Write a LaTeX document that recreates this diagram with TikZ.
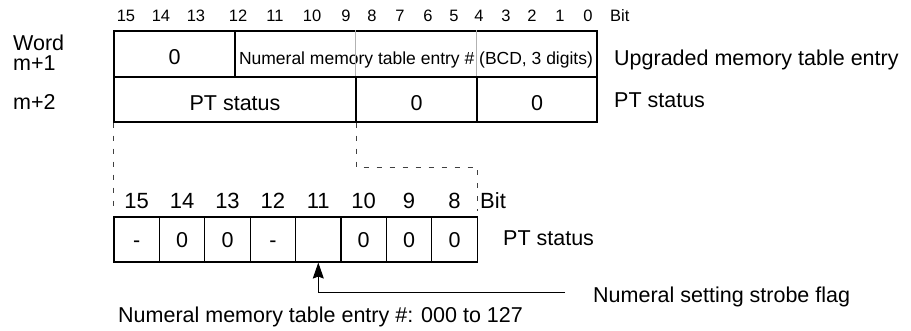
\documentclass[tikz,border=0pt]{standalone}
\usepackage{fontspec}
\setmainfont{Liberation Sans}
\usetikzlibrary{arrows.meta}

\tikzstyle{every node}=[font=\fontsize{21.5}{24}\selectfont, inner sep=0pt]
\tikzstyle{cell} = [rectangle, draw, line width=1.1pt, minimum height=46pt, text height=22pt, text depth=0pt]
\tikzstyle{bitcell} = [rectangle, draw, line width=1.1pt, minimum height=45pt, minimum width=45.4pt, text height=16pt, text depth=0pt]
\tikzstyle{bitno} = [anchor=base, font=\fontsize{16.5}{18}\selectfont]
\tikzstyle{bigbitno} = [anchor=base, font=\fontsize{22}{24}\selectfont]
\tikzstyle{bitline} = [draw=gray!60, line width=0.8pt]
\tikzstyle{guide} = [draw=black!75, line width=0.9pt, dash pattern=on 5pt off 8pt]
\tikzstyle{flagarrow} = [line width=0.9pt, -{Stealth[length=16pt, width=11pt, inset=2pt]}]

\begin{document}
\begin{tikzpicture}[x=1pt, y=-1pt]
	\useasboundingbox (0,0) rectangle (911,331);
	\node[bitno] at (126,22) {15};
	\node[bitno] at (161,22) {14};
	\node[bitno] at (196,22) {13};
	\node[bitno] at (238,22) {12};
	\node[bitno] at (275,22) {11};
	\node[bitno] at (312,22) {10};
	\node[bitno] at (346,22) {9};
	\node[bitno] at (372,22) {8};
	\node[bitno] at (400,22) {7};
	\node[bitno] at (428,22) {6};
	\node[bitno] at (454,22) {5};
	\node[bitno] at (479,22) {4};
	\node[bitno] at (506,22) {3};
	\node[bitno] at (532,22) {2};
	\node[bitno] at (560,22) {1};
	\node[bitno] at (588,22) {0};
	\node[bitno, anchor=base west] (topbit) at (610,22) {Bit};
	\node[anchor=base west] (word) at (13,51) {Word};
	\node[anchor=base west] (m1) at (13,71) {m+1};
	\node[anchor=base west] (m2) at (13,110) {m+2};
	\node[cell, minimum width=121pt] (zero1) at (174.5,54) {0};
	\node[cell, minimum width=362pt, font=\fontsize{17.5}{20}\selectfont] (entry) at (416,54) {Numeral memory table entry \# (BCD, 3 digits)};
	\node[cell, minimum width=242pt, minimum height=45pt] (pt) at (235,99.5) {PT status};
	\node[cell, minimum width=121pt, minimum height=45pt] (zero2) at (416.5,99.5) {0};
	\node[cell, minimum width=120pt, minimum height=45pt] (zero3) at (537,99.5) {0};
	\draw[bitline] (zero2.north west) -- (zero2.north west |- entry.north);
	\draw[bitline] (zero3.north west) -- (zero3.north west |- entry.north);
	\node[anchor=base west] (upgr) at (614,66) {Upgraded memory table entry};
	\node[anchor=base west] (ptr) at (614,108) {PT status};
	\begin{scope}
		\node[bigbitno] at (136.7,209) {15};
		\node[bigbitno] at (182.1,209) {14};
		\node[bigbitno] at (227.5,209) {13};
		\node[bigbitno] at (272.9,209) {12};
		\node[bigbitno] at (318.3,209) {11};
		\node[bigbitno] at (363.7,209) {10};
		\node[bigbitno] at (409.1,209) {9};
		\node[bigbitno] at (454.5,209) {8};
		\node[bigbitno, anchor=base west] (lowbit) at (480,209) {Bit};
		\node[bitcell] (b15) at (136.7,239.5) {-};
		\node[bitcell] (b14) at (182.1,239.5) {0};
		\node[bitcell] (b13) at (227.5,239.5) {0};
		\node[bitcell] (b12) at (272.9,239.5) {-};
		\node[bitcell] (b11) at (318.3,239.5) {};
		\node[bitcell] (b10) at (363.7,239.5) {0};
		\node[bitcell] (b9) at (409.1,239.5) {0};
		\node[bitcell] (b8) at (454.5,239.5) {0};
		\node[anchor=base west] (ptlow) at (503,246) {PT status};
	\end{scope}
	\draw[guide] (pt.south west) -- ([yshift=7pt]b15.north west);
	\draw[guide] (pt.south east) -- ++(0,45) -| ([yshift=5pt]b8.north east);
	\node[anchor=base west] (flag) at (593,302) {Numeral setting strobe flag};
	\coordinate (flagend) at (565,292);
	\draw[flagarrow] (flagend) -| (b11.south);
	\node[anchor=base west] (range) at (118,323) {Numeral memory table entry \#: 000 to 127};
\end{tikzpicture}
\end{document}
